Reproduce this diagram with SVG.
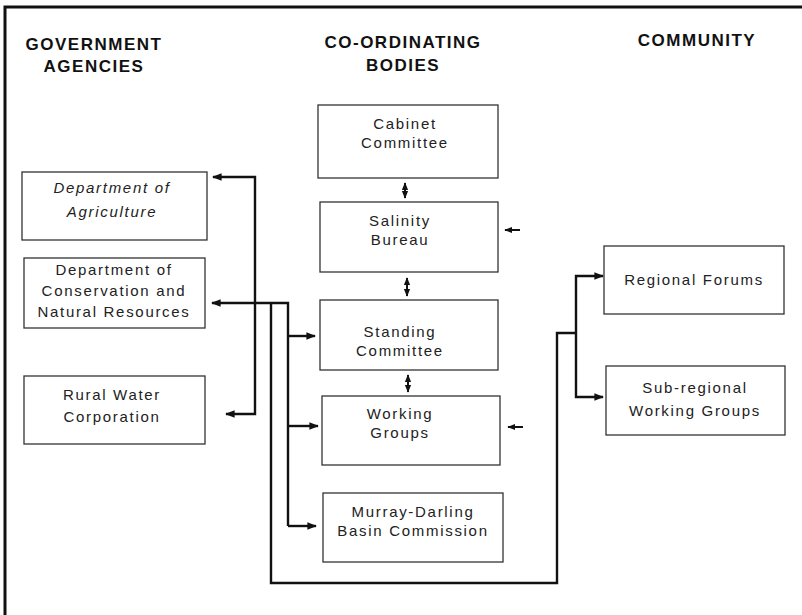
<svg xmlns="http://www.w3.org/2000/svg" width="802" height="615" viewBox="0 0 802 615">
<defs>
<style>
.bg{fill:#fff}
.frame{fill:none;stroke:#111;stroke-width:3}
.box{fill:#fff;stroke:#333;stroke-width:1.3}
.head{font-family:"Liberation Sans",Arial,sans-serif;font-weight:bold;font-size:17px;letter-spacing:1.5px;fill:#111;text-anchor:middle}
.lbl{font-family:"Liberation Sans",Arial,sans-serif;font-size:15px;letter-spacing:1.7px;fill:#222;text-anchor:middle}
.it{font-style:italic}
.con{fill:none;stroke:#111;stroke-width:2.4}
.dbl{fill:none;stroke:#111;stroke-width:2}
</style>
<marker id="ah" viewBox="0 0 10 10" refX="9" refY="5" markerWidth="4" markerHeight="4" orient="auto-start-reverse" markerUnits="strokeWidth">
<path d="M0,1 L10,5 L0,9 z" fill="#111"/>
</marker>
</defs>
<rect class="bg" x="0" y="0" width="802" height="615"/>
<rect class="frame" x="5" y="7" width="900" height="700"/>

<g id="headings">
<text class="head" x="94" y="50">GOVERNMENT</text>
<text class="head" x="94" y="72">AGENCIES</text>
<text class="head" x="403" y="48">CO-ORDINATING</text>
<text class="head" x="403" y="71">BODIES</text>
<text class="head" x="697" y="46">COMMUNITY</text>
</g>

<g id="dept-agriculture">
<rect class="box" x="22" y="172" width="185" height="68"/>
<text class="lbl it" x="112" y="193">Department of</text>
<text class="lbl it" x="112" y="217">Agriculture</text>
</g>
<g id="dept-conservation">
<rect class="box" x="24" y="258" width="181" height="70"/>
<text class="lbl" x="114" y="275">Department of</text>
<text class="lbl" x="114" y="296">Conservation and</text>
<text class="lbl" x="114" y="317">Natural Resources</text>
</g>
<g id="rural-water">
<rect class="box" x="24" y="376" width="181" height="68"/>
<text class="lbl" x="112" y="400">Rural Water</text>
<text class="lbl" x="112" y="422">Corporation</text>
</g>

<g id="cabinet-committee">
<rect class="box" x="318" y="105" width="180" height="73"/>
<text class="lbl" x="405" y="129">Cabinet</text>
<text class="lbl" x="405" y="148">Committee</text>
</g>
<g id="salinity-bureau">
<rect class="box" x="320" y="202" width="178" height="70"/>
<text class="lbl" x="400" y="226">Salinity</text>
<text class="lbl" x="400" y="245">Bureau</text>
</g>
<g id="standing-committee">
<rect class="box" x="320" y="300" width="178" height="70"/>
<text class="lbl" x="400" y="337">Standing</text>
<text class="lbl" x="400" y="356">Committee</text>
</g>
<g id="working-groups">
<rect class="box" x="322" y="396" width="178" height="69"/>
<text class="lbl" x="400" y="419">Working</text>
<text class="lbl" x="400" y="438">Groups</text>
</g>
<g id="murray-darling">
<rect class="box" x="323" y="493" width="180" height="69"/>
<text class="lbl" x="413" y="517">Murray-Darling</text>
<text class="lbl" x="413" y="536">Basin Commission</text>
</g>

<g id="regional-forums">
<rect class="box" x="604" y="246" width="180" height="68"/>
<text class="lbl" x="694" y="285">Regional Forums</text>
</g>
<g id="subregional-groups">
<rect class="box" x="606" y="366" width="179" height="69"/>
<text class="lbl" x="695" y="393">Sub-regional</text>
<text class="lbl" x="695" y="416">Working Groups</text>
</g>

<g id="connectors">
<path class="con" d="M213,177 H255 V414 H226" marker-start="url(#ah)" marker-end="url(#ah)"/>
<path class="con" d="M212,303 H288 V526"  marker-start="url(#ah)"/>
<path class="con" d="M288,336 H315" marker-end="url(#ah)"/>
<path class="con" d="M288,426 H318" marker-end="url(#ah)"/>
<path class="con" d="M288,526 H316" marker-end="url(#ah)"/>
<path class="con" d="M271,303 V583 H557 V333 H576"/>
<path class="con" d="M603,276 H576 V397 H603" marker-start="url(#ah)" marker-end="url(#ah)"/>
<path class="dbl" d="M405,183 V198" marker-start="url(#ah)" marker-end="url(#ah)"/>
<path class="dbl" d="M407,278 V296" marker-start="url(#ah)" marker-end="url(#ah)"/>
<path class="dbl" d="M408,375 V392" marker-start="url(#ah)" marker-end="url(#ah)"/>
<path class="dbl" d="M520,230 H505" marker-end="url(#ah)"/>
<path class="dbl" d="M523,427 H508" marker-end="url(#ah)"/>
</g>
</svg>
